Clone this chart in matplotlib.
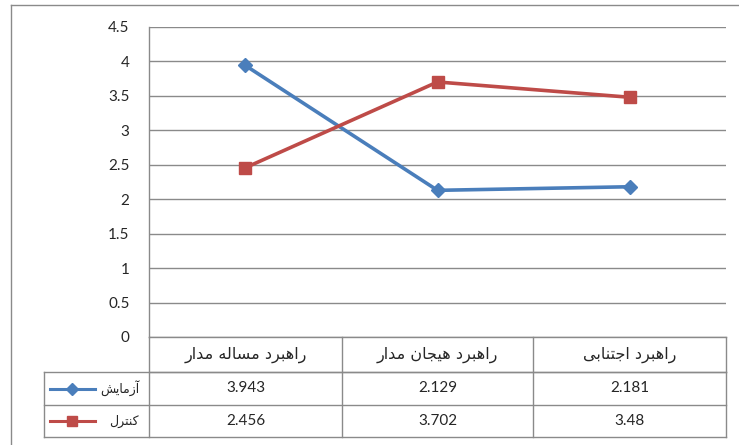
import matplotlib
matplotlib.use("Agg")
import matplotlib.pyplot as plt
from matplotlib.lines import Line2D

# ---------------- data ----------------
categories = ["راهبرد مساله مدار", "راهبرد هیجان مدار", "راهبرد اجتنابی"]
series_names = ["آزمایش", "کنترل"]
test_values = [3.943, 2.129, 2.181]
control_values = [2.456, 3.702, 3.48]
y_ticks = [0, 0.5, 1, 1.5, 2, 2.5, 3, 3.5, 4, 4.5]

# ---------------- minimal Arabic/Persian shaping ----------------
FORMS = {
    'ا': (0xFE8D, 0xFE8E, 0xFE8D, 0xFE8E),
    'آ': (0xFE81, 0xFE82, 0xFE81, 0xFE82),
    'ب': (0xFE8F, 0xFE90, 0xFE91, 0xFE92),
    'ت': (0xFE95, 0xFE96, 0xFE97, 0xFE98),
    'ج': (0xFE9D, 0xFE9E, 0xFE9F, 0xFEA0),
    'د': (0xFEA9, 0xFEAA, 0xFEA9, 0xFEAA),
    'ر': (0xFEAD, 0xFEAE, 0xFEAD, 0xFEAE),
    'ز': (0xFEAF, 0xFEB0, 0xFEAF, 0xFEB0),
    'س': (0xFEB1, 0xFEB2, 0xFEB3, 0xFEB4),
    'ش': (0xFEB5, 0xFEB6, 0xFEB7, 0xFEB8),
    'ل': (0xFEDD, 0xFEDE, 0xFEDF, 0xFEE0),
    'م': (0xFEE1, 0xFEE2, 0xFEE3, 0xFEE4),
    'ن': (0xFEE5, 0xFEE6, 0xFEE7, 0xFEE8),
    'ه': (0xFEE9, 0xFEEA, 0xFEEB, 0xFEEC),
    'ی': (0xFBFC, 0xFBFD, 0xFBFE, 0xFBFF),
    'ک': (0xFB8E, 0xFB8F, 0xFB90, 0xFB91),
}
NON_JOIN_AFTER = set('اآدذرزژو')


def shape(s):
    out = []
    for i, c in enumerate(s):
        if c not in FORMS:
            out.append(c)
            continue
        prev = s[i - 1] if i > 0 else None
        nxt = s[i + 1] if i + 1 < len(s) else None
        jp = prev in FORMS and prev not in NON_JOIN_AFTER
        jn = nxt in FORMS and c not in NON_JOIN_AFTER
        iso, fin, ini, med = FORMS[c]
        if jp and jn:
            cp = med
        elif jp:
            cp = fin
        elif jn:
            cp = ini
        else:
            cp = iso
        out.append(chr(cp))
    return ''.join(reversed(out))


# ---------------- figure ----------------
W, H = 739, 445
fig = plt.figure(figsize=(W / 100, H / 100), dpi=100)
fig.patch.set_facecolor('white')
plt.rcParams['font.family'] = ['Lato', 'DejaVu Sans']

GRID = '#8a8a8a'
BLUE = '#4a7ebb'
RED = '#be4b48'
TXT = '#262626'


def fx(px):
    return px / W


def fy(py):
    return 1 - py / H


# outer chart border (top & left visible)
fig.add_artist(Line2D([fx(11), fx(11)], [fy(5), fy(450)], color=GRID, lw=1.0,
                      transform=fig.transFigure))
fig.add_artist(Line2D([fx(11), fx(745)], [fy(5), fy(5)], color=GRID, lw=1.0,
                      transform=fig.transFigure))

left, right, top, bottom = 149, 726, 27, 337
ax = fig.add_axes([fx(left), fy(bottom), fx(right) - fx(left), fy(top) - fy(bottom)])
ax.set_xlim(0, len(categories))
ax.set_ylim(0, 4.5)
ax.set_yticks(y_ticks)
ax.set_yticklabels([f"{t:g}" for t in y_ticks], fontsize=11, color=TXT)
ax.tick_params(axis='y', length=0, pad=14)
ax.set_xticks([])
for s in ['top', 'right', 'bottom']:
    ax.spines[s].set_visible(False)
ax.spines['left'].set_color(GRID)
ax.spines['left'].set_linewidth(1.0)
ax.yaxis.grid(True, color=GRID, lw=1.0)
ax.set_axisbelow(True)
ax.patch.set_alpha(0)

xs = [i + 0.5 for i in range(len(categories))]
ax.plot(xs, test_values, color=BLUE, lw=2.6, marker='D', ms=7,
        markerfacecolor=BLUE, markeredgecolor=BLUE, clip_on=False, zorder=3)
ax.plot(xs, control_values, color=RED, lw=2.6, marker='s', ms=8.5,
        markerfacecolor=RED, markeredgecolor=RED, clip_on=False, zorder=4)

# ---------------- data table ----------------
tab = fig.add_axes([0, 0, 1, 1])
tab.set_xlim(0, W)
tab.set_ylim(H, 0)
tab.axis('off')
tab.patch.set_alpha(0)

col_edges = [149, 342, 533, 726]
row_edges = [337, 372, 405, 437]
leg_left = 44

# horizontal lines
tab.plot([left, right], [row_edges[0]] * 2, color=GRID, lw=1.0)
tab.plot([left, right], [row_edges[1]] * 2, color=GRID, lw=1.0)
for r in row_edges[1:]:
    tab.plot([leg_left, right], [r, r], color=GRID, lw=1.0)
# vertical lines
for c in col_edges:
    tab.plot([c, c], [row_edges[0], row_edges[-1]], color=GRID, lw=1.0)
tab.plot([leg_left, leg_left], [row_edges[1], row_edges[-1]], color=GRID, lw=1.0)

# header
for i, cat in enumerate(categories):
    cx = (col_edges[i] + col_edges[i + 1]) / 2
    cy = (row_edges[0] + row_edges[1]) / 2
    tab.text(cx, cy, shape(cat), ha='center', va='center', fontsize=11.5,
             color=TXT, family='DejaVu Sans')

rows = [test_values, control_values]
colors = [BLUE, RED]
markers = [('D', 6), ('s', 7.5)]
for r, vals in enumerate(rows):
    cy = (row_edges[r + 1] + row_edges[r + 2]) / 2
    for i, v in enumerate(vals):
        cx = (col_edges[i] + col_edges[i + 1]) / 2
        tab.text(cx, cy, f"{v:g}", ha='center', va='center', fontsize=11,
                 color=TXT)
    # legend key
    tab.text(139, cy, shape(series_names[r]), ha='right', va='center',
             fontsize=9, color=TXT, family='DejaVu Sans')
    tab.plot([50, 95], [cy, cy], color=colors[r], lw=2.2)
    tab.plot([72], [cy], color=colors[r], marker=markers[r][0],
             ms=markers[r][1], markerfacecolor=colors[r],
             markeredgecolor=colors[r])

fig.savefig('out.png', dpi=100, facecolor='white')
